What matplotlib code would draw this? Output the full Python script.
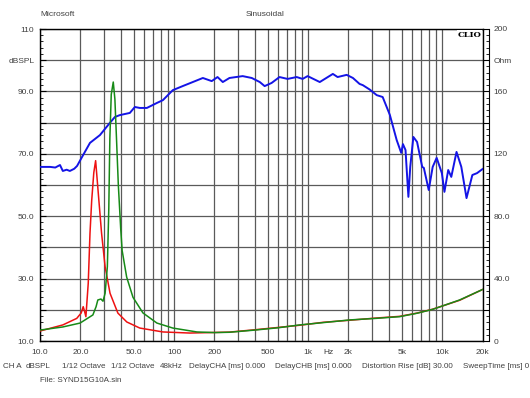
import numpy as np
import matplotlib
matplotlib.use("Agg")
import matplotlib.pyplot as plt
from matplotlib.ticker import FixedLocator, MultipleLocator, NullLocator

plt.rcParams['font.family'] = ['Liberation Sans', 'DejaVu Sans']

# SPL response (dBSPL, left axis)
spl_freq = [10, 11.9, 13.0, 14.1, 14.8, 15.8, 16.7, 18.0, 18.9, 20.6, 23.6, 28, 33.2, 36.2,
            39.4, 46.8, 51, 55.5, 62.7, 74.5, 82.6, 97.9, 116, 138, 164, 191, 211, 231,
            259, 325, 380, 436, 474, 534, 612, 703, 822, 910, 992, 1222, 1530, 1660,
            1940, 2160, 2420, 2560, 2880, 3250, 3600, 4070, 4580, 4950, 5100, 5330, 5600,
            5780, 6100, 6500, 7100, 7300, 7940, 8500, 9100, 9950, 10400, 11100, 11700,
            12800, 13900, 15200, 16800, 18200, 20000]
spl_db = [65.8, 65.8, 65.6, 66.4, 64.5, 64.9, 64.5, 65.2, 66.1, 69.0, 73.5, 76, 79.9, 81.8,
          82.4, 83.1, 85, 84.7, 84.7, 86.3, 87.2, 90.4, 91.7, 93, 94.3, 93.3, 94.6, 93,
          94.3, 94.9, 94.3, 93, 91.7, 92.7, 94.6, 94, 94.6, 94, 94.9, 93, 95.6, 94.6,
          95.3, 94.3, 92.4, 92, 90.6, 88.8, 88.2, 82.5, 74.4, 70.3, 73.1, 71.2, 56.2,
          65.8, 75.4, 73.8, 65.8, 65.5, 58.4, 65.8, 68.7, 63.8, 57.8, 64.8, 62.6,
          70.6, 65.8, 55.8, 63.2, 63.8, 65.1]

# red trace (Ohm, right axis)
red_freq = [10, 14.8, 18.8, 20.3, 21.0, 21.5, 22.0, 22.9, 23.6, 24.3, 25.2, 26.0, 27.2,
            28.8, 30.6, 33.3, 38.1, 44.4, 55.5, 82.6, 131, 259, 400, 600, 866, 1300,
            2040, 3200, 4820, 6500, 8510, 13500, 20000]
red_ohm = [6.4, 10.3, 14.5, 18, 22, 19, 15.6, 37, 69, 90, 108, 115.6, 95,
           69, 47.6, 30.6, 17.9, 12.2, 8.3, 5.8, 5.1, 5.7, 7.2, 8.7, 10.1, 12.0,
           13.3, 14.7, 15.8, 17.9, 20.4, 26.1, 33.0]

# green trace (Ohm, right axis)
green_freq = [10, 14.8, 19.9, 24.8, 26.2, 27.0, 28.5, 29.5, 30.6, 31.8, 32.6, 33.2, 34.0,
              35.2, 36.2, 37.2, 38.4, 40.0, 41.0, 44.3, 49.4, 58.6, 74.5, 97.9, 148,
              200, 259, 400, 600, 866, 1300, 2040, 3200, 4820, 6500, 8510, 13500, 20000]
green_ohm = [7.0, 9.0, 11.5, 16.7, 22, 26.3, 26.9, 25.5, 30.6, 47.6, 85, 130, 158,
             166, 155, 130, 100, 72, 58, 41, 28, 18, 11.5, 8.3, 5.8,
             5.4, 5.6, 7.0, 8.5, 10.3, 11.8, 13.5, 14.5, 15.6, 17.8, 20.3, 26.3, 33.0]

xtick_pos = [10, 20, 50, 100, 200, 500, 1000, 1414, 2000, 5000, 10000, 20000]
xtick_lab = ['10.0', '20.0', '50.0', '100', '200', '500', '1k', 'Hz', '2k', '5k', '10k', '20k']
ly_pos = list(range(10, 111, 10))
ly_lab = ['10.0', '', '30.0', '', '50.0', '', '70.0', '', '90.0', 'dBSPL', '110']
ry_pos = list(range(0, 201, 20))
ry_lab = ['0', '', '40.0', '', '80.0', '', '120', '', '160', 'Ohm', '200']

W, H = 530, 398
fig = plt.figure(figsize=(W / 100, H / 100), dpi=100)
L, R, T, B = 40, 482.5, 29, 341
ax = fig.add_axes([L / W, 1 - B / H, (R - L) / W, (B - T) / H])
ax2 = ax.twinx()

txt = '#404040'
gridc = '#5a5a5a'
fs = 6

ax.set_xscale('log')
ax.set_xlim(10, 20000)
ax.set_ylim(10, 110)
ax2.set_ylim(0, 200)

# vertical grid at every 1..9 x decade
grid_f = [m * 10 ** d for d in range(1, 5) for m in range(1, 10) if m * 10 ** d <= 20000]
for f in grid_f:
    ax.axvline(f, color=gridc, lw=0.9, zorder=1)

ax.xaxis.set_major_locator(FixedLocator(xtick_pos))
ax.set_xticklabels(xtick_lab)
ax.xaxis.set_minor_locator(NullLocator())
ax.tick_params(axis='x', which='both', length=0, labelsize=fs, labelcolor=txt, pad=6)

ax.set_yticks(ly_pos)
ax.set_yticklabels(ly_lab)
ax.yaxis.set_minor_locator(MultipleLocator(2))
ax.tick_params(axis='y', which='major', direction='in', length=4, labelsize=fs,
               labelcolor=txt, pad=4)
ax.tick_params(axis='y', which='minor', direction='in', length=2)
ax.grid(True, axis='y', which='major', color=gridc, lw=0.9)

ax2.set_yticks(ry_pos)
ax2.set_yticklabels(ry_lab)
ax2.yaxis.set_minor_locator(MultipleLocator(4))
ax2.tick_params(axis='y', which='major', direction='in', length=4, labelsize=fs,
                labelcolor=txt, pad=3)
ax2.tick_params(axis='y', which='minor', direction='in', length=2)
ax2.spines['right'].set_position(('outward', 5))
ax2.spines['right'].set_linewidth(0.8)
for s in ['top', 'left', 'bottom']:
    ax2.spines[s].set_visible(False)

for s in ax.spines.values():
    s.set_color('black')
    s.set_linewidth(1.0)

ax.plot(spl_freq, spl_db, color='#1414e6', lw=1.4, zorder=3)
ax2.plot(red_freq, red_ohm, color='#ee1111', lw=1.1, zorder=3)
ax2.plot(green_freq, green_ohm, color='#178a17', lw=1.1, zorder=4)

ax.text(0.998, 0.995, 'CLIO', transform=ax.transAxes, ha='right', va='top',
        family='DejaVu Serif', fontweight='bold', fontsize=6, color='black',
        bbox=dict(facecolor='white', edgecolor='none', pad=0.3), zorder=6)

fig.text(40 / W, 1 - 14 / H, 'Microsoft', fontsize=fs, color=txt, va='center')
fig.text(265 / W, 1 - 14 / H, 'Sinusoidal', fontsize=fs, color=txt, va='center', ha='center')

footer = [(3, 'CH A'), (26, 'dBSPL'), (62, '1/12 Octave'), (111, '1/12 Octave'),
          (160, '48kHz'), (189, 'DelayCHA [ms] 0.000'), (275, 'DelayCHB [ms] 0.000'),
          (362, 'Distortion Rise [dB] 30.00'), (463, 'SweepTime [ms] 0')]
for x, s in footer:
    fig.text(x / W, 1 - 366 / H, s, fontsize=5.8, color=txt, va='center')
fig.text(40 / W, 1 - 380 / H, 'File: SYND15G10A.sin', fontsize=5.8, color=txt, va='center')

fig.savefig('out.png', dpi=100)
